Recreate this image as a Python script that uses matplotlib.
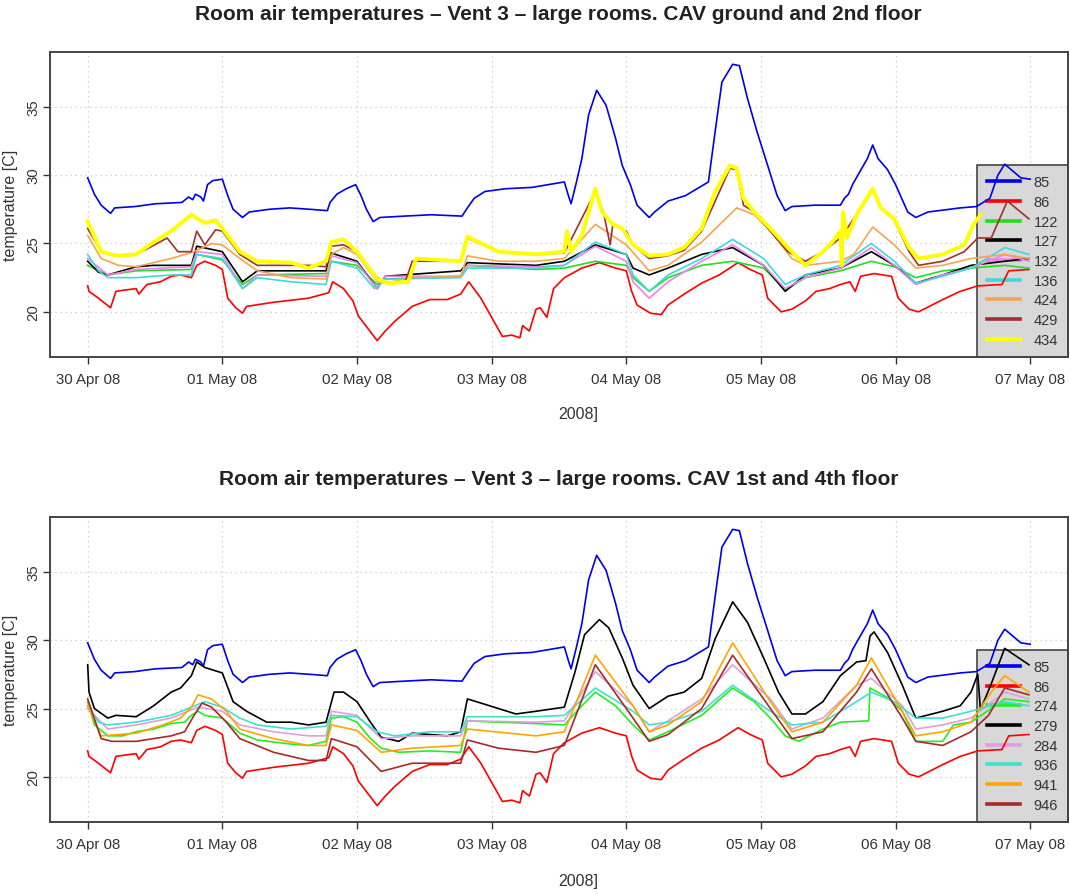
import matplotlib
matplotlib.use('Agg')
import matplotlib.pyplot as plt
from matplotlib.lines import Line2D

plt.rcParams['font.family'] = ['Liberation Sans', 'DejaVu Sans']

day_labels = ['30 Apr 08', '01 May 08', '02 May 08', '03 May 08',
              '04 May 08', '05 May 08', '06 May 08', '07 May 08']
title_top = 'Room air temperatures – Vent 3 – large rooms. CAV ground and 2nd floor'
title_bottom = 'Room air temperatures – Vent 3 – large rooms. CAV 1st and 4th floor'

# time in days after 30 Apr 08 00:00, temperature in C
t85 = [0.00, 0.05, 0.10, 0.17, 0.20, 0.35, 0.50, 0.70, 0.75, 0.78, 0.80, 0.84, 0.86, 0.89, 0.93,
       1.00, 1.04, 1.08, 1.15, 1.20, 1.35, 1.50, 1.65, 1.78, 1.80, 1.85, 1.92, 1.99, 2.03, 2.07,
       2.12, 2.17, 2.35, 2.55, 2.78, 2.82, 2.87, 2.95, 3.10, 3.30, 3.54, 3.57, 3.59, 3.63, 3.67,
       3.72, 3.78, 3.85, 3.92, 3.97, 4.03, 4.08, 4.17, 4.21, 4.31, 4.44, 4.61, 4.66, 4.71, 4.79,
       4.84, 4.90, 4.97, 5.05, 5.12, 5.18, 5.23, 5.40, 5.59, 5.62, 5.65, 5.68, 5.72, 5.79, 5.83,
       5.87, 5.94, 6.00, 6.09, 6.15, 6.24, 6.48, 6.60, 6.70, 6.76, 6.81, 6.87, 6.93, 7.00]
v85 = [29.8, 28.6, 27.8, 27.2, 27.6, 27.7, 27.9, 28.0, 28.4, 28.2, 28.6, 28.4, 28.1, 29.3, 29.6,
       29.7, 28.5, 27.5, 26.9, 27.3, 27.5, 27.6, 27.5, 27.4, 28.0, 28.6, 29.0, 29.3, 28.5, 27.5,
       26.6, 26.9, 27.0, 27.1, 27.0, 27.6, 28.3, 28.8, 29.0, 29.1, 29.5, 28.5, 27.9, 29.5, 31.2,
       34.4, 36.2, 35.1, 32.7, 30.7, 29.3, 27.8, 26.9, 27.3, 28.1, 28.5, 29.5, 33.2, 36.8, 38.1,
       38.0, 35.6, 33.2, 30.7, 28.5, 27.4, 27.7, 27.8, 27.8, 28.3, 28.6, 29.3, 30.0, 31.2, 32.2,
       31.2, 30.4, 29.3, 27.3, 26.9, 27.3, 27.6, 27.7, 28.3, 30.0, 30.8, 30.3, 29.8, 29.7]

t86 = [0.00, 0.01, 0.08, 0.17, 0.21, 0.28, 0.36, 0.38, 0.44, 0.54, 0.62, 0.69, 0.77, 0.81, 0.87,
       0.95, 1.00, 1.04, 1.10, 1.15, 1.18, 1.38, 1.64, 1.79, 1.82, 1.90, 1.97, 2.01, 2.08, 2.15,
       2.21, 2.28, 2.41, 2.54, 2.67, 2.77, 2.83, 2.92, 3.00, 3.08, 3.15, 3.21, 3.23, 3.28, 3.33,
       3.36, 3.41, 3.46, 3.54, 3.67, 3.80, 3.92, 4.00, 4.04, 4.08, 4.18, 4.26, 4.31, 4.43, 4.56,
       4.69, 4.83, 4.92, 5.01, 5.05, 5.15, 5.23, 5.33, 5.41, 5.51, 5.59, 5.66, 5.70, 5.74, 5.84,
       5.97, 6.02, 6.10, 6.17, 6.35, 6.48, 6.61, 6.79, 6.84, 6.99]
v86 = [21.9, 21.5, 21.0, 20.3, 21.5, 21.6, 21.7, 21.3, 22.0, 22.2, 22.6, 22.7, 22.5, 23.4, 23.7,
       23.4, 23.1, 21.0, 20.3, 19.9, 20.4, 20.7, 21.0, 21.4, 22.2, 21.7, 20.8, 19.7, 18.8, 17.9,
       18.6, 19.3, 20.4, 20.9, 20.9, 21.3, 22.2, 21.0, 19.6, 18.2, 18.3, 18.1, 19.0, 18.6, 20.2,
       20.3, 19.6, 21.7, 22.5, 23.2, 23.6, 23.2, 23.0, 21.5, 20.5, 19.9, 19.8, 20.5, 21.3, 22.1,
       22.7, 23.6, 23.1, 22.7, 21.0, 20.0, 20.2, 20.8, 21.5, 21.7, 22.0, 22.2, 21.5, 22.6, 22.8,
       22.6, 21.0, 20.2, 20.0, 20.9, 21.5, 21.9, 22.0, 23.0, 23.1]

# ground and 2nd floor
t122 = [0.00, 0.15, 0.36, 0.77, 0.81, 1.00, 1.15, 1.26, 1.77, 1.81, 2.00, 2.15, 2.21, 2.77, 2.82,
        3.33, 3.54, 3.77, 4.00, 4.05, 4.17, 4.31, 4.56, 4.79, 5.02, 5.18, 5.33, 5.59, 5.82, 5.99,
        6.15, 6.35, 6.56, 6.81, 6.99]
v122 = [23.4, 22.7, 23.0, 23.1, 24.2, 23.8, 22.0, 22.7, 22.8, 23.7, 23.4, 22.0, 22.4, 22.6, 23.4,
        23.1, 23.2, 23.7, 23.4, 22.5, 21.5, 22.5, 23.4, 23.7, 23.2, 21.6, 22.5, 23.0, 23.7, 23.3,
        22.5, 23.0, 23.2, 23.4, 23.2]

t127 = [0.00, 0.08, 0.15, 0.36, 0.49, 0.77, 0.81, 1.00, 1.15, 1.26, 1.77, 1.81, 2.00, 2.15, 2.21,
        2.77, 2.82, 3.33, 3.54, 3.77, 4.00, 4.05, 4.17, 4.31, 4.56, 4.79, 5.02, 5.18, 5.33, 5.59,
        5.82, 5.99, 6.15, 6.35, 6.56, 6.81, 6.99]
v127 = [23.7, 22.9, 22.7, 23.3, 23.4, 23.4, 24.8, 24.4, 22.2, 23.0, 23.0, 24.3, 23.7, 21.7, 22.6,
        23.0, 23.6, 23.4, 23.7, 24.9, 24.2, 23.2, 22.7, 23.2, 24.2, 24.7, 23.4, 21.5, 22.7, 23.2,
        24.4, 23.4, 22.1, 22.7, 23.4, 23.7, 23.9]

t132 = [0.00, 0.15, 0.36, 0.77, 0.81, 1.00, 1.15, 1.26, 1.77, 1.81, 2.00, 2.15, 2.21, 2.77, 2.82,
        3.33, 3.54, 3.77, 4.00, 4.05, 4.17, 4.31, 4.56, 4.79, 5.02, 5.18, 5.33, 5.59, 5.82, 5.99,
        6.15, 6.35, 6.56, 6.81, 6.99]
v132 = [23.9, 22.7, 23.1, 23.3, 24.4, 24.2, 21.7, 22.7, 22.6, 24.1, 23.6, 21.7, 22.6, 22.6, 23.4,
        23.3, 23.4, 24.8, 23.7, 22.2, 21.0, 22.2, 23.7, 24.9, 23.4, 21.7, 22.5, 23.2, 24.7, 23.4,
        22.0, 22.7, 23.2, 24.2, 23.7]

t136 = [0.00, 0.08, 0.15, 0.36, 0.62, 0.77, 0.81, 1.00, 1.15, 1.26, 1.51, 1.77, 1.81, 2.00, 2.13,
        2.21, 2.77, 2.82, 3.33, 3.54, 3.77, 4.00, 4.05, 4.17, 4.31, 4.56, 4.79, 5.02, 5.18, 5.33,
        5.59, 5.82, 5.99, 6.15, 6.35, 6.56, 6.81, 6.99]
v136 = [24.2, 23.0, 22.5, 22.5, 22.7, 22.7, 24.2, 23.9, 21.7, 22.5, 22.2, 22.0, 23.7, 23.2, 21.7,
        22.4, 22.5, 23.2, 23.2, 23.4, 25.1, 24.2, 22.7, 21.5, 22.7, 23.9, 25.3, 23.9, 22.0, 22.7,
        23.4, 25.0, 23.7, 22.1, 22.6, 23.2, 24.7, 24.2]

t424 = [0.00, 0.10, 0.23, 0.36, 0.62, 0.79, 0.92, 1.00, 1.13, 1.26, 1.51, 1.77, 1.81, 1.90, 2.00,
        2.15, 2.21, 2.41, 2.77, 2.82, 3.05, 3.33, 3.54, 3.77, 4.00, 4.17, 4.31, 4.56, 4.82, 4.95,
        5.07, 5.23, 5.33, 5.59, 5.69, 5.83, 5.99, 6.15, 6.35, 6.56, 6.81, 6.99]
v424 = [25.6, 23.9, 23.4, 23.3, 23.9, 24.4, 25.0, 24.9, 23.9, 23.0, 22.5, 22.4, 24.2, 24.7, 24.2,
        22.2, 22.1, 22.5, 22.6, 24.1, 23.7, 23.7, 23.9, 26.4, 24.9, 23.0, 23.4, 25.1, 27.6, 27.1,
        25.9, 23.9, 23.4, 23.7, 24.2, 26.2, 24.9, 23.2, 23.4, 23.9, 24.2, 23.9]

t429 = [0.00, 0.10, 0.23, 0.36, 0.46, 0.59, 0.67, 0.77, 0.81, 0.87, 0.95, 1.00, 1.13, 1.26, 1.64,
        1.77, 1.81, 1.90, 2.00, 2.15, 2.21, 2.36, 2.41, 2.77, 2.82, 3.05, 3.33, 3.54, 3.77, 3.83,
        3.88, 3.90, 4.00, 4.05, 4.17, 4.31, 4.43, 4.56, 4.77, 4.82, 4.87, 4.95, 5.07, 5.20, 5.33,
        5.46, 5.59, 5.71, 5.83, 5.89, 5.99, 6.10, 6.17, 6.35, 6.51, 6.61, 6.71, 6.83, 6.99]
v429 = [26.1, 24.4, 24.1, 24.2, 24.7, 25.4, 24.4, 24.4, 25.9, 24.9, 26.0, 25.9, 24.2, 23.4, 23.4,
        23.3, 24.8, 24.9, 24.4, 22.5, 22.2, 22.2, 23.7, 23.7, 25.4, 24.4, 24.2, 24.3, 28.8, 27.3,
        24.9, 26.4, 25.9, 24.9, 23.9, 24.1, 24.5, 25.9, 30.5, 30.4, 27.8, 27.3, 25.9, 24.4, 23.7,
        24.4, 25.4, 27.1, 28.9, 27.6, 26.7, 24.4, 23.4, 23.7, 24.4, 25.4, 25.4, 28.1, 26.8]

t434 = [0.00, 0.10, 0.21, 0.36, 0.49, 0.62, 0.77, 0.87, 0.95, 1.00, 1.13, 1.26, 1.51, 1.64, 1.77,
        1.81, 1.90, 2.00, 2.15, 2.23, 2.38, 2.44, 2.77, 2.82, 3.05, 3.33, 3.54, 3.56, 3.59, 3.67,
        3.77, 3.82, 3.90, 3.97, 4.05, 4.17, 4.31, 4.43, 4.56, 4.66, 4.77, 4.82, 4.87, 4.95, 5.07,
        5.20, 5.33, 5.46, 5.53, 5.59, 5.60, 5.61, 5.64, 5.71, 5.83, 5.89, 5.99, 6.10, 6.17, 6.35,
        6.51, 6.58, 6.63]
v434 = [26.6, 24.4, 24.1, 24.2, 25.1, 25.9, 27.1, 26.5, 26.7, 26.1, 24.4, 23.7, 23.6, 23.2, 23.7,
        25.1, 25.3, 24.4, 22.4, 22.1, 22.2, 23.9, 23.7, 25.5, 24.4, 24.2, 24.4, 25.9, 24.4, 25.6,
        29.0, 27.3, 26.4, 26.1, 24.9, 24.1, 24.2, 24.7, 26.1, 28.8, 30.7, 30.5, 28.3, 27.3, 26.1,
        24.7, 23.4, 24.4, 25.1, 25.9, 23.4, 27.3, 25.4, 27.1, 29.0, 27.6, 26.8, 24.7, 23.9, 24.2,
        24.9, 26.4, 27.1]

# 1st and 4th floor
t274 = [0.00, 0.05, 0.15, 0.26, 0.36, 0.49, 0.62, 0.72, 0.77, 0.82, 0.87, 1.00, 1.13, 1.26, 1.51,
        1.64, 1.77, 1.81, 1.90, 2.00, 2.10, 2.18, 2.31, 2.54, 2.77, 2.82, 3.05, 3.33, 3.54, 3.67,
        3.77, 3.92, 4.05, 4.17, 4.31, 4.56, 4.79, 4.95, 5.07, 5.18, 5.28, 5.46, 5.59, 5.80, 5.81,
        5.94, 6.05, 6.15, 6.35, 6.43, 6.56, 6.71, 6.81, 6.99]
v274 = [25.5, 23.8, 23.0, 23.0, 23.3, 23.5, 23.9, 24.0, 24.5, 24.8, 24.5, 24.3, 23.2, 22.7, 22.4,
        22.3, 22.6, 24.3, 24.4, 24.0, 22.8, 22.1, 21.8, 21.9, 21.8, 24.1, 24.0, 23.9, 23.8, 25.2,
        26.2, 25.2, 23.8, 22.7, 23.3, 24.5, 26.5, 25.5, 24.3, 23.0, 22.6, 23.5, 24.0, 24.1, 26.5,
        25.8, 24.8, 22.6, 22.6, 23.8, 24.0, 25.0, 25.7, 25.5]

t279 = [0.00, 0.01, 0.05, 0.15, 0.21, 0.36, 0.49, 0.62, 0.69, 0.77, 0.81, 0.87, 1.00, 1.08, 1.18,
        1.33, 1.51, 1.64, 1.77, 1.83, 1.90, 2.00, 2.10, 2.18, 2.31, 2.41, 2.67, 2.77, 2.82, 2.92,
        3.05, 3.18, 3.33, 3.54, 3.62, 3.69, 3.80, 3.87, 3.97, 4.05, 4.17, 4.31, 4.43, 4.56, 4.66,
        4.79, 4.90, 5.02, 5.13, 5.23, 5.33, 5.46, 5.59, 5.71, 5.78, 5.81, 5.84, 5.94, 6.05, 6.15,
        6.35, 6.48, 6.56, 6.61, 6.63, 6.71, 6.81, 6.99]
v279 = [28.2, 26.2, 25.0, 24.3, 24.5, 24.4, 25.2, 26.2, 26.5, 27.4, 28.4, 28.0, 27.6, 25.5, 24.8,
        24.0, 24.0, 23.8, 24.0, 26.2, 26.2, 25.5, 24.0, 22.9, 22.6, 23.2, 23.0, 23.3, 25.7, 25.4,
        25.0, 24.6, 24.8, 25.1, 27.7, 30.4, 31.5, 30.9, 28.7, 26.7, 25.0, 25.9, 26.2, 27.2, 30.1,
        32.8, 31.3, 28.7, 26.2, 24.6, 24.6, 25.5, 27.4, 28.4, 28.5, 30.3, 30.6, 29.1, 26.7, 24.3,
        24.8, 25.2, 26.2, 27.5, 24.9, 26.8, 29.4, 28.2]

t284 = [0.00, 0.15, 0.36, 0.62, 0.82, 1.00, 1.13, 1.38, 1.64, 1.77, 1.81, 2.00, 2.18, 2.41, 2.77,
        2.82, 3.33, 3.54, 3.77, 4.05, 4.17, 4.31, 4.56, 4.79, 5.07, 5.23, 5.46, 5.71, 5.82, 6.05,
        6.15, 6.35, 6.56, 6.81, 6.99]
v284 = [25.0, 23.5, 23.8, 24.3, 25.1, 24.8, 23.8, 23.3, 23.0, 23.0, 24.8, 24.5, 22.8, 23.0, 23.0,
        24.1, 24.0, 24.1, 27.7, 25.2, 23.3, 24.1, 25.7, 28.2, 25.7, 23.5, 24.3, 26.7, 27.2, 25.2,
        23.5, 23.8, 24.3, 26.2, 25.7]

t936 = [0.00, 0.08, 0.15, 0.36, 0.62, 0.77, 0.87, 1.00, 1.13, 1.26, 1.51, 1.77, 1.81, 2.00, 2.15,
        2.28, 2.54, 2.77, 2.82, 3.33, 3.54, 3.77, 4.05, 4.17, 4.31, 4.56, 4.79, 5.07, 5.23, 5.46,
        5.71, 5.82, 5.99, 6.15, 6.35, 6.56, 6.81, 6.99]
v936 = [25.2, 24.0, 23.8, 24.0, 24.5, 25.1, 25.5, 25.1, 24.3, 23.8, 23.5, 23.7, 24.5, 24.4, 23.3,
        23.0, 23.3, 23.3, 24.4, 24.4, 24.5, 26.5, 24.8, 23.8, 24.0, 24.8, 26.7, 24.8, 23.8, 24.0,
        25.5, 26.2, 25.5, 24.3, 24.3, 24.8, 25.5, 25.2]

t941 = [0.00, 0.10, 0.36, 0.56, 0.69, 0.77, 0.82, 0.92, 1.03, 1.13, 1.38, 1.64, 1.77, 1.81, 2.00,
        2.18, 2.41, 2.77, 2.82, 3.33, 3.54, 3.77, 4.05, 4.17, 4.31, 4.56, 4.79, 5.07, 5.23, 5.46,
        5.71, 5.82, 6.05, 6.15, 6.35, 6.56, 6.71, 6.81, 6.99]
v941 = [25.2, 23.0, 23.2, 23.8, 24.3, 25.1, 26.0, 25.7, 24.8, 23.5, 22.8, 22.3, 22.3, 23.8, 23.4,
        21.8, 22.1, 22.3, 23.5, 23.0, 23.3, 28.9, 25.2, 23.3, 23.8, 25.5, 29.8, 25.5, 23.3, 24.0,
        26.7, 28.7, 24.8, 23.0, 23.3, 24.0, 26.2, 27.4, 26.2]

t946 = [0.00, 0.10, 0.18, 0.36, 0.62, 0.72, 0.79, 0.85, 0.92, 1.03, 1.13, 1.38, 1.64, 1.77, 1.81,
        2.00, 2.18, 2.41, 2.77, 2.82, 3.05, 3.33, 3.54, 3.77, 4.05, 4.17, 4.31, 4.56, 4.79, 5.07,
        5.23, 5.46, 5.71, 5.82, 6.05, 6.15, 6.35, 6.56, 6.69, 6.81, 6.99]
v946 = [25.7, 22.8, 22.6, 22.6, 23.0, 23.3, 24.5, 25.4, 25.1, 24.0, 22.8, 21.8, 21.2, 21.2, 22.8,
        22.2, 20.4, 21.0, 21.0, 22.7, 22.1, 21.8, 22.3, 28.2, 24.3, 22.6, 23.1, 25.0, 28.9, 25.0,
        22.8, 23.3, 26.2, 27.9, 24.3, 22.6, 22.3, 23.3, 24.5, 26.5, 26.0]

top_series = [('85', t85, v85, '#0000ee', 1.2), ('86', t86, v86, '#ff0000', 1.2),
              ('122', t122, v122, '#22dd22', 1.2), ('127', t127, v127, '#000000', 1.2),
              ('132', t132, v132, '#ee82ee', 1.2), ('136', t136, v136, '#40d8d8', 1.2),
              ('424', t424, v424, '#f5a550', 1.2), ('429', t429, v429, '#a03030', 1.2),
              ('434', t434, v434, '#ffff00', 2.8)]
bottom_series = [('85', t85, v85, '#0000ee', 1.2), ('86', t86, v86, '#ff0000', 1.2),
                 ('274', t274, v274, '#22ee22', 1.2), ('279', t279, v279, '#000000', 1.2),
                 ('284', t284, v284, '#dda0dd', 1.2), ('936', t936, v936, '#40e0d0', 1.2),
                 ('941', t941, v941, '#ffa500', 1.2), ('946', t946, v946, '#a52a2a', 1.2)]


def panel(ax, series, title, title_y, xlab_y):
    for name, t, v, c, lw in series:
        ax.plot(t, v, color=c, lw=lw, zorder=2)
    ax.set_xlim(-0.28, 7.28)
    ax.set_ylim(16.7, 39.0)
    ax.set_xticks(range(8))
    ax.set_xticklabels(day_labels, fontsize=10.8, color='#333333')
    ax.set_yticks([20, 25, 30, 35])
    ax.set_yticklabels(['20', '25', '30', '35'], rotation=90, va='center',
                       fontsize=10.8, color='#333333')
    ax.tick_params(length=5, width=1, color='#333333')
    ax.tick_params(axis='x', pad=6)
    ax.tick_params(axis='y', pad=2)
    ax.set_axisbelow(True)
    ax.grid(True, color='#c8c8c8', linestyle=(0, (1, 3)), lw=0.9)
    for s in ax.spines.values():
        s.set_color('#444444')
        s.set_linewidth(1.4)
    ax.set_ylabel('temperature [C]', fontsize=11.5, color='#333333', labelpad=6)
    handles = [Line2D([], [], color=c, lw=max(lw, 2.6)) for name, t, v, c, lw in series]
    leg = ax.legend(handles, [s[0] for s in series], loc='lower right',
                    bbox_to_anchor=(1, 0), borderaxespad=0, fontsize=10.5,
                    fancybox=False, framealpha=1, facecolor='#d8d8d8',
                    edgecolor='#444444', handlelength=2.3, handletextpad=0.9,
                    labelspacing=0.39, borderpad=0.7)
    leg.get_frame().set_linewidth(1.2)
    for txt in leg.get_texts():
        txt.set_color('#333333')
    leg.set_zorder(1.5)
    fig.text(0.522, title_y, title, ha='center', va='center', fontsize=15,
             fontweight='bold', color='#222222')
    fig.text(0.540, xlab_y, '2008]', ha='center', va='center', fontsize=11.5,
             color='#333333')


fig = plt.figure(figsize=(10.7, 8.95), dpi=100)
ax1 = fig.add_axes([0.0467, 0.600, 0.9514, 0.3408])
ax2 = fig.add_axes([0.0467, 0.0804, 0.9514, 0.3408])
panel(ax1, top_series, title_top, 1 - 15 / 895, 1 - 414 / 895)
panel(ax2, bottom_series, title_bottom, 1 - 480 / 895, 1 - 882 / 895)
fig.savefig('out.png', dpi=100)
